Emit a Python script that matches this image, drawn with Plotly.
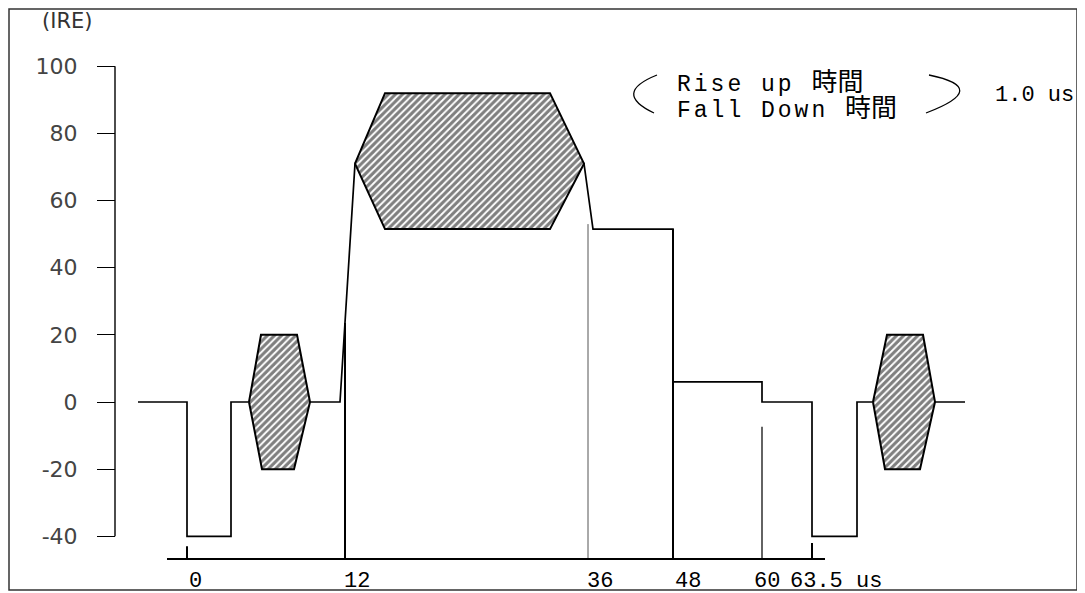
import plotly.graph_objects as go

# ---------------- data (schematic positions) ----------------
# horizontal position is schematic (the diagram is not drawn to time scale)
wave_x = [138, 187, 187, 231, 231, 340, 355, 584, 593, 673, 673, 762, 762, 812, 812, 857, 857, 965]
wave_ire = [0, 0, -40, -40, 0, 0, 71, 71, 51.5, 51.5, 6, 6, 0, 0, -40, -40, 0, 0]

burst1_x = [249, 261, 297, 310, 294, 262, 249]
burst1_ire = [0, 20, 20, 0, -20, -20, 0]

bar_x = [355, 385, 550, 584, 550, 385, 355]
bar_ire = [71, 92, 92, 71, 51.5, 51.5, 71]

burst2_x = [873, 887, 923, 935, 920, 885, 873]
burst2_ire = [0, 20, 20, 0, -20, -20, 0]

marker_x = [187, 345, 588, 673, 762, 812]
marker_top = [-43, 23.5, 53, 51.5, -7.4, -42]
marker_labels = ["0", "12", "36", "48", "60", "63.5 us"]

ytick_vals = [100, 80, 60, 40, 20, 0, -20, -40]
ytick_text = ["100", "80", "60", "40", "20", "0", "-20", "-40"]

rise_words = ("Rise up", "時間")
fall_words = ("Fall Down", "時間")
time_text = "1.0 us"
y_title = "(IRE)"

# ---------------- layout helpers ----------------
W, H = 1085, 593
PAGE_OFF = 8                     # default page body margin
FW, FH = W - PAGE_OFF, H - PAGE_OFF
PX_PER_IRE = 3.357
ZERO_PY = 402


def ire(py):
    return (ZERO_PY - py) / PX_PER_IRE


def pxx(p):
    return (p - PAGE_OFF) / FW


def pxy(p):
    return 1 - (p - PAGE_OFF) / FH


AXIS_Y = ire(559)
MONO = "Liberation Mono, 'Noto Sans CJK TC', monospace"
SANS = "DejaVu Sans, sans-serif"

fig = go.Figure()

# waveform
fig.add_trace(go.Scatter(x=wave_x, y=wave_ire, mode="lines",
                         line=dict(color="black", width=1.7), hoverinfo="skip"))

# time markers
marker_widths = [2, 2, 1, 2, 1.4, 2]
marker_colors = ["black", "black", "#555", "black", "#222", "black"]
for mx, mt, mw, mc in zip(marker_x, marker_top, marker_widths, marker_colors):
    fig.add_trace(go.Scatter(x=[mx, mx], y=[mt, AXIS_Y], mode="lines",
                             line=dict(color=mc, width=mw), hoverinfo="skip"))

# time axis baseline
fig.add_trace(go.Scatter(x=[167, 825], y=[AXIS_Y, AXIS_Y], mode="lines",
                         line=dict(color="black", width=2), hoverinfo="skip"))

# IRE axis line
fig.add_trace(go.Scatter(x=[115, 115], y=[ytick_vals[0], ytick_vals[-1]], mode="lines",
                         line=dict(color="black", width=1.4), hoverinfo="skip"))

# hatched bursts / chroma bar
pattern = dict(shape="/", size=5, solidity=0.62, fgcolor="black", bgcolor="white")
for hx, hy in [(burst1_x, burst1_ire), (bar_x, bar_ire), (burst2_x, burst2_ire)]:
    fig.add_trace(go.Scatter(x=hx, y=hy, mode="lines", fill="toself",
                             fillcolor="white", fillpattern=pattern,
                             line=dict(color="black", width=2), hoverinfo="skip"))

# x labels
label_shift = [8, 12, 12, 15, 5, -24]
annotations = []
for mx, lab, sh in zip(marker_x, marker_labels, label_shift):
    annotations.append(dict(x=mx, y=ire(581), text=lab, showarrow=False,
                            xanchor="left" if lab.endswith("us") else "center",
                            xshift=sh, font=dict(family=MONO, size=22, color="black")))


def spaced(words):
    latin, cjk = words
    return (f"<span style='letter-spacing:3px'>{latin} </span>"
            f"<span style='font-size:26px'>{cjk}</span>")


annotations += [
    dict(x=675, y=ire(84), text=spaced(rise_words), showarrow=False, xanchor="left",
         font=dict(family=MONO, size=23, color="black")),
    dict(x=675, y=ire(110), text=spaced(fall_words), showarrow=False, xanchor="left",
         font=dict(family=MONO, size=23, color="black")),
    dict(x=993, y=ire(95), text=time_text, showarrow=False, xanchor="left",
         font=dict(family=MONO, size=22, color="black")),
    dict(x=67, y=ire(21), text=y_title, showarrow=False, xanchor="center",
         font=dict(family=SANS, size=21, color="#333")),
]

shapes = [
    dict(type="rect", xref="paper", yref="paper", x0=pxx(9), x1=pxx(1077),
         y0=pxy(590), y1=pxy(9), line=dict(color="#333", width=1.5)),
    dict(type="path", xref="paper", yref="paper",
         path=f"M {pxx(657)} {pxy(75)} Q {pxx(612)} {pxy(93)} {pxx(654)} {pxy(113)}",
         line=dict(color="black", width=1.3)),
    dict(type="path", xref="paper", yref="paper",
         path=f"M {pxx(929)} {pxy(75)} Q {pxx(992)} {pxy(88)} {pxx(926)} {pxy(113)}",
         line=dict(color="black", width=1.3)),
]

fig.update_layout(
    width=FW, height=FH,
    margin=dict(l=0, r=0, t=0, b=0),
    paper_bgcolor="white", plot_bgcolor="white",
    showlegend=False,
    xaxis=dict(range=[PAGE_OFF, W], visible=False),
    yaxis=dict(range=[ire(H), ire(PAGE_OFF)], anchor="free", position=pxx(115),
               showgrid=False, zeroline=False, showline=False,
               ticks="outside", ticklen=18, tickwidth=1.4, tickcolor="black",
               tickvals=ytick_vals, ticktext=ytick_text, ticklabelstandoff=15,
               tickfont=dict(family=SANS, size=22, color="#444")),
    annotations=annotations,
    shapes=shapes,
)

fig.write_html("out.html")
